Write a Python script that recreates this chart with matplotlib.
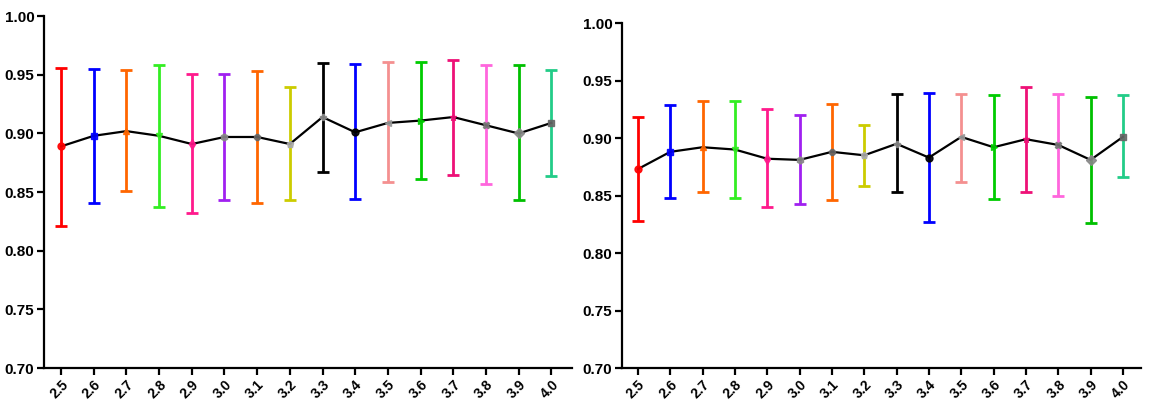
import matplotlib
matplotlib.use("Agg")
import matplotlib.pyplot as plt

plt.rcParams['font.family'] = ['Liberation Sans', 'DejaVu Sans']

# x categories (shared by both panels)
labels = ['2.5', '2.6', '2.7', '2.8', '2.9', '3.0', '3.1', '3.2',
          '3.3', '3.4', '3.5', '3.6', '3.7', '3.8', '3.9', '4.0']

# left panel: mean, upper and lower ends of error bars
left_mean = [0.889, 0.898, 0.902, 0.898, 0.891, 0.897, 0.897, 0.891,
             0.914, 0.901, 0.909, 0.911, 0.914, 0.907, 0.900, 0.909]
left_top = [0.956, 0.955, 0.954, 0.958, 0.951, 0.951, 0.953, 0.940,
            0.960, 0.959, 0.961, 0.961, 0.963, 0.958, 0.958, 0.954]
left_bot = [0.821, 0.841, 0.851, 0.837, 0.832, 0.843, 0.841, 0.843,
            0.867, 0.844, 0.859, 0.861, 0.865, 0.857, 0.843, 0.864]

# right panel
right_mean = [0.873, 0.888, 0.892, 0.890, 0.882, 0.881, 0.888, 0.885,
              0.895, 0.883, 0.901, 0.892, 0.899, 0.894, 0.881, 0.901]
right_top = [0.918, 0.929, 0.932, 0.932, 0.925, 0.920, 0.930, 0.911,
             0.938, 0.939, 0.938, 0.937, 0.944, 0.938, 0.936, 0.937]
right_bot = [0.828, 0.848, 0.853, 0.848, 0.840, 0.843, 0.846, 0.858,
             0.853, 0.827, 0.862, 0.847, 0.853, 0.850, 0.826, 0.866]

colors = ['#ff0000', '#0000ff', '#ff6600', '#33ee22', '#ff1a8c', '#a020f0',
          '#ff6600', '#cccc00', '#000000', '#0000ff', '#f49090', '#00cc00',
          '#ee1177', '#ff66dd', '#00c000', '#22cc88']
markers = ['o', 's', '^', 'v', 'd', 'h', '8', 'p',
           'P', 'o', '<', '>', '*', 'X', 'D', 's']
marker_colors = ['#ff0000', '#0000ff', '#ff6600', '#33ee22', '#ff1a8c', '#888888',
                 '#666666', '#aaaaaa', '#888888', '#000000', '#999999', '#00cc00',
                 '#ee1177', '#777777', '#888888', '#666666']


def draw_panel(ax, mean, top, bot, xlim):
    x = list(range(len(labels)))
    ax.plot(x, mean, color='black', lw=1.6, zorder=3)
    for i in x:
        ax.errorbar(i, mean[i], yerr=[[mean[i] - bot[i]], [top[i] - mean[i]]],
                    color=colors[i], ecolor=colors[i], elinewidth=2,
                    capsize=4.5, capthick=2, fmt='none', zorder=2)
        ax.plot(i, mean[i], marker=markers[i], color=marker_colors[i],
                markersize=5, zorder=4, alpha=0.9)
    ax.set_ylim(0.70, 1.00)
    ax.set_xlim(*xlim)
    ax.set_yticks([0.70, 0.75, 0.80, 0.85, 0.90, 0.95, 1.00])
    ax.set_yticklabels(['%.2f' % v for v in [0.70, 0.75, 0.80, 0.85, 0.90, 0.95, 1.00]],
                       fontsize=11, fontweight='bold')
    ax.set_xticks(x)
    ax.set_xticklabels(labels, rotation=45, fontsize=10, fontweight='bold',
                       ha='right', rotation_mode='anchor')
    ax.spines['top'].set_visible(False)
    ax.spines['right'].set_visible(False)
    ax.spines['left'].set_linewidth(1.6)
    ax.spines['bottom'].set_linewidth(1.6)
    ax.tick_params(width=1.6, length=5, pad=2)


fig = plt.figure(figsize=(11.5, 4.03), dpi=100)
ax1 = fig.add_axes([0.0383, 0.0868, 0.459, 0.873])
ax2 = fig.add_axes([0.5409, 0.0868, 0.4513, 0.856])

draw_panel(ax1, left_mean, left_top, left_bot, (-0.52, 15.63))
draw_panel(ax2, right_mean, right_top, right_bot, (-0.49, 15.56))

fig.savefig('out.png', dpi=100)
